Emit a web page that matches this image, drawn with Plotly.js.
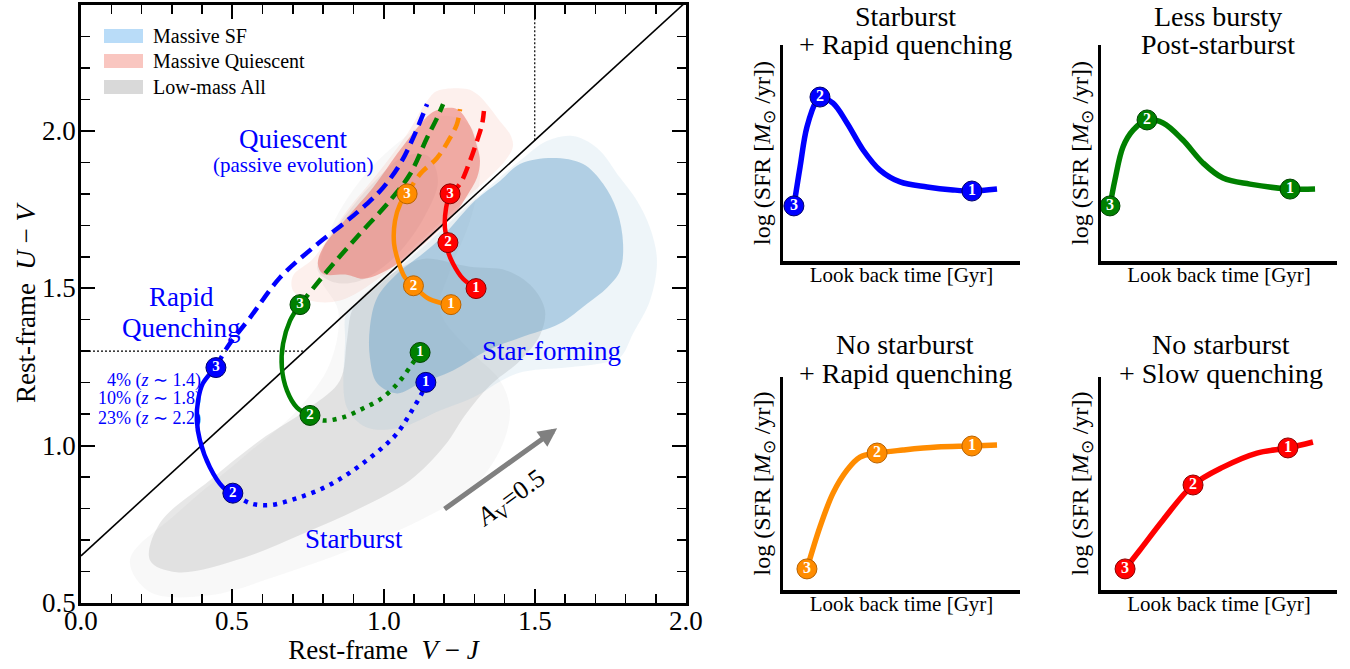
<!DOCTYPE html>
<html>
<head>
<meta charset="utf-8">
<script src="https://cdn.plot.ly/plotly-3.0.1.min.js"></script>
<style>html,body{margin:0;padding:0;background:#fff;}#chart{width:1350px;height:669px;}</style>
</head>
<body>
<div id="chart"></div>
<script>
// ---------------- DATA ----------------
// UVJ selection box
const uvjSlope = 0.88, uvjIntercept = 0.65, uvjUVmin = 1.3, uvjVJmax = 1.5;

// axis tick labels
const xTickVals = [0, 0.5, 1.0, 1.5, 2.0];
const yTickVals = [0.5, 1.0, 1.5, 2.0];

// Density contours (V-J, U-V)
const grayOuterX = [0.162,0.317,0.536,0.714,0.823,0.850,0.790,0.823,0.922,1.055,1.187,1.286,1.319,1.286,1.220,1.187,1.286,1.385,1.418,1.385,1.286,1.121,0.889,0.658,0.426,0.228];
const grayOuterY = [0.636,0.785,0.963,1.112,1.261,1.429,1.540,1.683,1.841,1.968,2.047,2.016,1.873,1.714,1.556,1.429,1.302,1.207,1.112,0.985,0.858,0.763,0.668,0.589,0.525,0.535];
const grayInnerX = [0.228,0.261,0.426,0.592,0.757,0.856,0.879,0.896,0.939,1.005,1.071,1.137,1.286,1.408,1.494,1.534,1.517,1.451,1.352,1.269,1.203,1.088,0.922,0.724,0.536,0.317];
const grayInnerY = [0.636,0.754,0.890,1.017,1.121,1.207,1.334,1.429,1.483,1.530,1.572,1.594,1.568,1.556,1.502,1.429,1.350,1.270,1.191,1.096,1.001,0.890,0.801,0.716,0.643,0.598];
const grayBlobX = [0.783,0.797,0.873,0.972,1.071,1.147,1.180,1.137,1.071,1.005,0.922,0.840];
const grayBlobY = [1.556,1.619,1.730,1.841,1.920,1.920,1.841,1.730,1.635,1.572,1.524,1.518];
const sfOuterX = [0.879,0.873,0.879,0.945,1.055,1.187,1.296,1.441,1.607,1.716,1.782,1.825,1.881,1.904,1.881,1.838,1.782,1.706,1.626,1.540,1.451,1.352,1.253,1.154,1.055,0.955];
const sfOuterY = [1.423,1.334,1.121,1.058,1.058,1.112,1.153,1.229,1.248,1.261,1.280,1.356,1.461,1.588,1.692,1.778,1.851,1.946,1.984,1.968,1.905,1.825,1.740,1.651,1.568,1.483];
const sfInnerX = [1.302,1.385,1.451,1.560,1.660,1.726,1.772,1.792,1.782,1.739,1.673,1.583,1.451,1.342,1.230,1.121,1.045,0.979,0.955,0.955,0.979,1.045,1.121,1.187];
const sfInnerY = [1.778,1.841,1.895,1.914,1.895,1.832,1.746,1.641,1.556,1.502,1.451,1.388,1.343,1.302,1.239,1.198,1.166,1.198,1.280,1.375,1.470,1.546,1.603,1.657];
const qOuterX = [0.701,0.767,0.879,0.988,1.078,1.144,1.177,1.276,1.309,1.342,1.385,1.418,1.428,1.402,1.253,1.121,0.988,0.856,0.757,0.701];
const qOuterY = [1.540,1.594,1.746,1.873,1.990,2.095,2.127,2.133,2.117,2.085,2.031,1.990,1.952,1.905,1.768,1.651,1.534,1.461,1.461,1.492];
const qInnerX = [0.783,0.800,0.879,0.965,1.045,1.111,1.154,1.187,1.243,1.286,1.309,1.319,1.309,1.276,1.236,1.154,1.071,0.988,0.932,0.879,0.800];
const qInnerY = [1.578,1.629,1.724,1.819,1.927,2.009,2.054,2.069,2.069,2.016,1.952,1.905,1.851,1.794,1.737,1.660,1.594,1.546,1.530,1.543,1.546];

// Evolutionary tracks (V-J, U-V)
const blueDotX   = [1.140,1.131,1.088,1.045,0.998,0.932,0.866,0.800,0.714,0.625,0.559,0.502];
const blueDotY   = [1.201,1.175,1.102,1.039,0.995,0.944,0.900,0.865,0.833,0.811,0.817,0.849];
const blueSolidX = [0.502,0.469,0.426,0.393,0.383,0.387,0.403,0.446];
const blueSolidY = [0.849,0.868,0.931,1.017,1.080,1.144,1.198,1.248];
const blueDashX  = [0.446,0.483,0.559,0.658,0.767,0.879,0.945,0.998,1.055,1.098,1.144];
const blueDashY  = [1.248,1.312,1.407,1.534,1.629,1.714,1.768,1.819,1.895,1.978,2.085];
const blueMarkX  = [1.140,0.502,0.446];
const blueMarkY  = [1.201,0.849,1.248];

const greenDotX   = [1.121,1.098,1.055,0.998,0.932,0.866,0.800,0.757];
const greenDotY   = [1.296,1.264,1.207,1.153,1.118,1.090,1.080,1.096];
const greenSolidX = [0.757,0.714,0.681,0.664,0.668,0.691,0.724];
const greenSolidY = [1.096,1.121,1.175,1.248,1.324,1.397,1.448];
const greenDashX  = [0.724,0.823,0.922,1.021,1.088,1.144,1.177,1.197];
const greenDashY  = [1.448,1.565,1.673,1.778,1.863,1.978,2.041,2.085];
const greenMarkX  = [1.121,0.757,0.724];
const greenMarkY  = [1.296,1.096,1.448];

const orangeSolidX = [1.223,1.187,1.144,1.099,1.071,1.048,1.035,1.038,1.055,1.078];
const orangeSolidY = [1.448,1.454,1.470,1.508,1.534,1.588,1.641,1.714,1.768,1.800];
const orangeDashX  = [1.078,1.121,1.177,1.220,1.243,1.253];
const orangeDashY  = [1.800,1.863,1.914,1.978,2.022,2.069];
const orangeMarkX  = [1.223,1.099,1.078];
const orangeMarkY  = [1.448,1.508,1.800];

const redSolidX = [1.306,1.263,1.230,1.213,1.213,1.203,1.207,1.220];
const redSolidY = [1.499,1.530,1.578,1.619,1.645,1.692,1.756,1.800];
const redDashX  = [1.220,1.253,1.286,1.309,1.326,1.332];
const redDashY  = [1.800,1.832,1.905,1.968,2.022,2.063];
const redMarkX  = [1.306,1.213,1.220];
const redMarkY  = [1.499,1.645,1.800];

const stageLabels = ['1','2','3'];

// Dust reddening vector A_V = 0.5 (start -> end)
const avStart = [1.197, 0.795];
const avEnd   = [1.574, 1.055];

// Star-formation histories (normalised look-back time, normalised log SFR)
const sfh1X = [0.046,0.072,0.101,0.143,0.156,0.211,0.270,0.338,0.409,0.494,0.608,0.717,0.797,0.903];
const sfh1Y = [0.255,0.435,0.620,0.745,0.759,0.731,0.639,0.514,0.421,0.366,0.343,0.329,0.324,0.333];
const sfh1MarkX = [0.797,0.156,0.046];
const sfh1MarkY = [0.324,0.759,0.255];

const sfh2X = [0.038,0.059,0.093,0.136,0.195,0.263,0.347,0.432,0.517,0.631,0.801,0.907];
const sfh2Y = [0.255,0.375,0.528,0.606,0.653,0.639,0.560,0.454,0.384,0.356,0.333,0.333];
const sfh2MarkX = [0.801,0.195,0.038];
const sfh2MarkY = [0.333,0.653,0.255];

const sfh3X = [0.101,0.156,0.211,0.270,0.325,0.397,0.506,0.650,0.797,0.903];
const sfh3Y = [0.099,0.296,0.455,0.563,0.624,0.643,0.657,0.671,0.676,0.681];
const sfh3MarkX = [0.797,0.397,0.101];
const sfh3MarkY = [0.676,0.643,0.099];

const sfh4X = [0.102,0.165,0.263,0.390,0.517,0.661,0.792,0.898];
const sfh4Y = [0.099,0.188,0.329,0.493,0.577,0.643,0.667,0.695];
const sfh4MarkX = [0.792,0.390,0.102];
const sfh4MarkY = [0.667,0.493,0.099];

const panelTitles = [
  ['Starburst', '+ Rapid quenching'],
  ['Less bursty', 'Post-starburst'],
  ['No starburst', '+ Rapid quenching'],
  ['No starburst', '+ Slow quenching']
];
const legendLabels = ['Massive SF', 'Massive Quiescent', 'Low-mass All'];
const pctLabels = ['4% (<i>z</i> ∼ 1.4)', '10% (<i>z</i> ∼ 1.8)', '23% (<i>z</i> ∼ 2.2)'];

// ---------------- STYLE ----------------
const FONT = '"Liberation Serif", "Times New Roman", serif';
const W = 1350, H = 669;
const PX = v => v / W;
const PY = v => 1 - v / H;
const C = {
  blue: '#0000ff', blueEdge: '#00006a',
  green: '#008000', greenEdge: '#004400',
  orange: '#ff8c00', orangeEdge: '#b86200',
  red: '#ff0000', redEdge: '#8b0000'
};

function closeArr(a) { return a.concat([a[0]]); }
function poly(xs, ys, fill) {
  return {type:'scatter', mode:'lines', x: closeArr(xs), y: closeArr(ys), fill:'toself',
    fillcolor: fill, line:{width:0, shape:'spline', smoothing:1.0}, hoverinfo:'skip',
    showlegend:false, xaxis:'x', yaxis:'y'};
}
function seg(xs, ys, color, dash, width, xa, ya) {
  return {type:'scatter', mode:'lines', x: xs, y: ys, line:{color: color, width: width, dash: dash, shape:'spline', smoothing:1.0},
    hoverinfo:'skip', showlegend:false, xaxis: xa || 'x', yaxis: ya || 'y', cliponaxis:false};
}
function marks(xs, ys, color, edge, size, fsize, xa, ya) {
  return {type:'scatter', mode:'markers+text', x: xs, y: ys, text: stageLabels,
    textposition:'middle center', textfont:{family: FONT, size: fsize, color:'white', weight:'bold'},
    marker:{size: size, color: color, line:{color: edge, width: 1}},
    hoverinfo:'skip', showlegend:false, xaxis: xa || 'x', yaxis: ya || 'y', cliponaxis:false};
}

const traces = [];
// contours
traces.push(poly(grayOuterX, grayOuterY, 'rgba(128,128,128,0.06)'));
traces.push(poly(grayInnerX, grayInnerY, 'rgba(128,128,128,0.19)'));
traces.push(poly(grayBlobX, grayBlobY, 'rgba(128,128,128,0.12)'));
traces.push(poly(sfOuterX, sfOuterY, 'rgba(100,160,200,0.11)'));
traces.push(poly(sfInnerX, sfInnerY, 'rgba(100,160,200,0.44)'));
traces.push(poly(qOuterX, qOuterY, 'rgba(240,150,130,0.14)'));
traces.push(poly(qInnerX, qInnerY, 'rgba(232,100,90,0.48)'));

// UVJ selection lines
const xInt = (uvjUVmin - uvjIntercept) / uvjSlope;
const yInt = uvjSlope * uvjVJmax + uvjIntercept;
traces.push({type:'scatter', mode:'lines', x:[0, 2], y:[uvjIntercept, uvjSlope*2 + uvjIntercept],
  line:{color:'black', width:1.6}, hoverinfo:'skip', showlegend:false, xaxis:'x', yaxis:'y'});
traces.push({type:'scatter', mode:'lines', x:[0, xInt], y:[uvjUVmin, uvjUVmin],
  line:{color:'black', width:1.2, dash:'2px,2px'}, hoverinfo:'skip', showlegend:false, xaxis:'x', yaxis:'y'});
traces.push({type:'scatter', mode:'lines', x:[uvjVJmax, uvjVJmax], y:[yInt, 2.4],
  line:{color:'black', width:1.2, dash:'2px,2px'}, hoverinfo:'skip', showlegend:false, xaxis:'x', yaxis:'y'});

// tracks
const DOT = '4px,6px', DASH = '13px,7px', TW = 4.5;
traces.push(seg(blueDotX, blueDotY, C.blue, DOT, TW));
traces.push(seg(blueSolidX, blueSolidY, C.blue, 'solid', TW));
traces.push(seg(blueDashX, blueDashY, C.blue, DASH, TW));
traces.push(seg(greenDotX, greenDotY, C.green, DOT, TW));
traces.push(seg(greenSolidX, greenSolidY, C.green, 'solid', TW));
traces.push(seg(greenDashX, greenDashY, C.green, DASH, TW));
traces.push(seg(orangeSolidX, orangeSolidY, C.orange, 'solid', TW));
traces.push(seg(orangeDashX, orangeDashY, C.orange, DASH, TW));
traces.push(seg(redSolidX, redSolidY, C.red, 'solid', TW));
traces.push(seg(redDashX, redDashY, C.red, DASH, TW));
traces.push(marks(blueMarkX, blueMarkY, C.blue, C.blueEdge, 20, 15));
traces.push(marks(greenMarkX, greenMarkY, C.green, C.greenEdge, 20, 15));
traces.push(marks(orangeMarkX, orangeMarkY, C.orange, C.orangeEdge, 20, 15));
traces.push(marks(redMarkX, redMarkY, C.red, C.redEdge, 20, 15));

// SFH panels
const panels = [
  {x: sfh1X, y: sfh1Y, mx: sfh1MarkX, my: sfh1MarkY, c: C.blue, e: C.blueEdge},
  {x: sfh2X, y: sfh2Y, mx: sfh2MarkX, my: sfh2MarkY, c: C.green, e: C.greenEdge},
  {x: sfh3X, y: sfh3Y, mx: sfh3MarkX, my: sfh3MarkY, c: C.orange, e: C.orangeEdge},
  {x: sfh4X, y: sfh4Y, mx: sfh4MarkX, my: sfh4MarkY, c: C.red, e: C.redEdge}
];
panels.forEach((p, i) => {
  const xa = 'x' + (i + 2), ya = 'y' + (i + 2);
  traces.push(seg(p.x, p.y, p.c, 'solid', 5.5, xa, ya));
  traces.push(marks(p.mx, p.my, p.c, p.e, 20, 16, xa, ya));
});

// ---------------- LAYOUT ----------------
const mainAxis = {
  showline: true, linewidth: 3, linecolor: 'black', mirror: 'allticks',
  ticks: 'inside', ticklen: 14, tickwidth: 2, tickcolor: 'black',
  dtick: 0.5, showticklabels: false,
  minor: {dtick: 0.1, ticks: 'inside', ticklen: 9, tickwidth: 1.5, tickcolor: 'black', showgrid: false},
  showgrid: false, zeroline: false, fixedrange: true
};
const layout = {
  width: W, height: H, margin: {l:0, r:0, t:0, b:0},
  paper_bgcolor: 'white', plot_bgcolor: 'rgba(0,0,0,0)',
  showlegend: false, font: {family: FONT, color: 'black'},
  xaxis: Object.assign({}, mainAxis, {domain: [PX(81), PX(686)], range: [0, 2], tick0: 0, anchor: 'y',
    title: {text: 'Rest-frame  <i>V</i> − <i>J</i>', font: {family: FONT, size: 27}, standoff: 36}}),
  yaxis: Object.assign({}, mainAxis, {domain: [PY(603), PY(5)], range: [0.5, 2.4], tick0: 0.5, anchor: 'x',
    title: {text: 'Rest-frame  <i>U</i> − <i>V</i>', font: {family: FONT, size: 27}, standoff: 35}}),
  annotations: [], shapes: []
};
const smallDom = [
  {x: [PX(783), PX(1020)], y: [PY(261), PY(45)]},
  {x: [PX(1101), PX(1337)], y: [PY(261), PY(45)]},
  {x: [PX(783), PX(1020)], y: [PY(590), PY(377)]},
  {x: [PX(1101), PX(1337)], y: [PY(590), PY(377)]}
];
smallDom.forEach((d, i) => {
  const n = i + 2;
  const base = {showline: true, linewidth: 3.5, linecolor: 'black', ticks: '', showticklabels: false,
    showgrid: false, zeroline: false, range: [0, 1], fixedrange: true};
  layout['xaxis' + n] = Object.assign({}, base, {domain: d.x, anchor: 'y' + n,
    title: {text: 'Look back time [Gyr]', font: {family: FONT, size: 21}, standoff: 5}});
  layout['yaxis' + n] = Object.assign({}, base, {domain: d.y, anchor: 'x' + n,
    title: {text: 'log (SFR [<i>M</i><sub>⊙</sub> /yr])', font: {family: FONT, size: 24}, standoff: 3}});
});

// annotations
function ann(text, xpx, ypx, size, color, extra) {
  return Object.assign({text: text, x: PX(xpx), y: PY(ypx), xref: 'paper', yref: 'paper',
    showarrow: false, xanchor: 'center', yanchor: 'middle',
    font: {family: FONT, size: size, color: color || 'black'}}, extra || {});
}
const A = layout.annotations;
// tick labels of the main panel (placed on the data scale)
const tickLabelFont = {family: FONT, size: 27, color: 'black'};
xTickVals.forEach(v => A.push({text: v.toFixed(1), x: v, xref: 'x', y: PY(621), yref: 'paper',
  showarrow: false, xanchor: 'center', yanchor: 'middle', font: tickLabelFont}));
yTickVals.forEach(v => A.push({text: v.toFixed(1), x: PX(78), xref: 'paper', y: v, yref: 'y',
  showarrow: false, xanchor: 'right', yanchor: 'middle', font: tickLabelFont}));

A.push(ann('Quiescent', 293, 139, 27, C.blue));
A.push(ann('(passive evolution)', 293, 165, 21, C.blue));
A.push(ann('Rapid', 182, 297, 27, C.blue));
A.push(ann('Quenching', 181, 328, 27, C.blue));
pctLabels.forEach((t, i) => A.push(ann(t, 203, 380 + 19 * i, 18, C.blue, {xanchor: 'right'})));
A.push(ann('Star-forming', 551, 351, 27, C.blue));
A.push(ann('Starburst', 354, 539, 27, C.blue));
A.push(ann('<i>A</i><sub>V</sub>=0.5', 511, 499, 26, 'black', {textangle: -36}));
A.push({x: avEnd[0], y: avEnd[1], ax: avStart[0], ay: avStart[1], xref: 'x', yref: 'y', axref: 'x', ayref: 'y',
  text: '', showarrow: true, arrowhead: 2, arrowsize: 0.75, arrowwidth: 5, arrowcolor: '#808080', standoff: 0, startstandoff: 0});

// legend (manual)
const legColors = ['#b9dcf8', '#f9c6c0', '#d9d9d9'];
const legY = [36, 61, 87];
legendLabels.forEach((t, i) => {
  layout.shapes.push({type: 'rect', xref: 'paper', yref: 'paper', x0: PX(104), x1: PX(143),
    y0: PY(legY[i] + 7), y1: PY(legY[i] - 7), fillcolor: legColors[i], line: {width: 0}});
  A.push(ann(t, 151, legY[i], 20, 'black', {xanchor: 'left'}));
});

// panel titles
const titlePos = [[905, 16, 44], [1218, 16, 44], [905, 344, 373], [1221, 344, 373]];
panelTitles.forEach((tt, i) => {
  A.push(ann(tt[0], titlePos[i][0], titlePos[i][1], 28, 'black'));
  A.push(ann(tt[1], titlePos[i][0], titlePos[i][2], 28, 'black'));
});

Plotly.newPlot('chart', traces, layout, {staticPlot: true, displayModeBar: false});
</script>
</body>
</html>
